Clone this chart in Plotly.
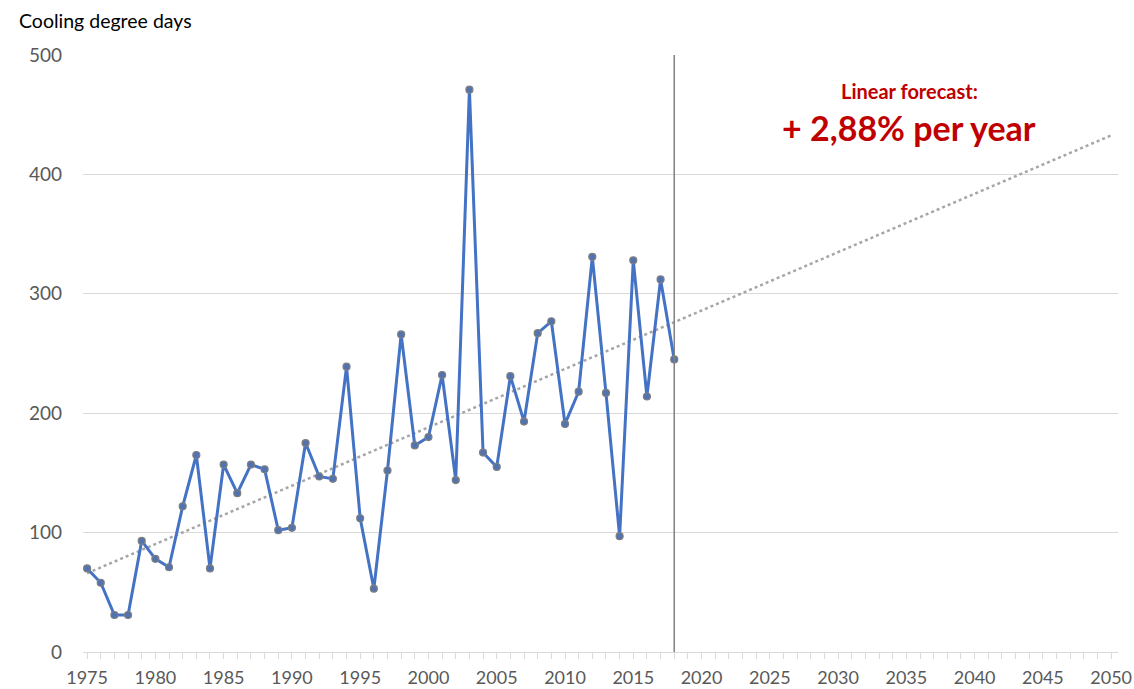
import numpy as np
import plotly.graph_objects as go

years = list(range(1975, 2019))
cdd = [70, 58, 31, 31, 93, 78, 71, 122, 165, 70,
       157, 133, 157, 153, 102, 104, 175, 147, 145, 239,
       112, 53, 152, 266, 173, 180, 232, 144, 471, 167,
       155, 231, 193, 267, 277, 191, 218, 331, 217, 97,
       328, 214, 312, 245]
forecast_years = list(range(1975, 2051))
x_tick_vals = list(range(1975, 2051, 5))
y_tick_vals = [0, 100, 200, 300, 400, 500]

coef = np.polyfit(years, cdd, 1)
trend = np.polyval(coef, forecast_years)

FONT = "Lato, Carlito, 'Open Sans', sans-serif"

fig = go.Figure()
fig.add_trace(go.Scatter(
    x=forecast_years, y=trend, mode="lines",
    line=dict(color="#a6a6a6", width=2.5, dash="dot"),
    hoverinfo="skip", showlegend=False))
fig.add_trace(go.Scatter(
    x=years, y=cdd, mode="lines+markers",
    line=dict(color="#4472C4", width=3),
    marker=dict(size=7, color="#5272b0", line=dict(color="#7f7f7f", width=1.2)),
    showlegend=False))

fig.add_shape(type="line", x0=2018, x1=2018, y0=0, y1=500,
              xref="x", yref="y", line=dict(color="#808080", width=1.5))

fig.add_annotation(x=2035.2, y=469.5, xref="x", yref="y", text="<b>Linear forecast:</b>",
                   showarrow=False, font=dict(family=FONT, size=20, color="#C00000"))
fig.add_annotation(x=2035.2, y=439, xref="x", yref="y", text="<b>+ 2,88% per year</b>",
                   showarrow=False, font=dict(family=FONT, size=34, color="#C00000"))
fig.add_annotation(x=0, y=1, xref="paper", yref="paper", xanchor="left", yanchor="middle",
                   xshift=-66, yshift=35, text="Cooling degree days", showarrow=False,
                   font=dict(family=FONT, size=19.5, color="#000000"))

fig.update_layout(
    width=1134, height=689,
    margin=dict(l=83, r=16, t=55, b=37, autoexpand=False),
    paper_bgcolor="white", plot_bgcolor="white",
    font=dict(family=FONT, size=18, color="#595959"),
    xaxis=dict(range=[1974.7, 2050.5], tickvals=x_tick_vals, showgrid=False,
               showline=True, linecolor="#d9d9d9", linewidth=1,
               ticks="outside", ticklen=6, tickcolor="#d9d9d9",
               minor=dict(ticks="outside", dtick=1, ticklen=6, tickcolor="#d9d9d9"),
               ticklabelstandoff=3, zeroline=False, automargin=False,
               tickfont=dict(family=FONT, size=18, color="#595959")),
    yaxis=dict(range=[0, 500], tickvals=y_tick_vals, showgrid=True,
               gridcolor="#d9d9d9", gridwidth=1, zeroline=False, showline=False,
               ticklabelstandoff=20, automargin=False,
               tickfont=dict(family=FONT, size=19, color="#595959")),
)

fig.write_html("out.html", config={"displayModeBar": False},
               post_script="document.body.style.margin='0';document.body.style.overflow='hidden';")
